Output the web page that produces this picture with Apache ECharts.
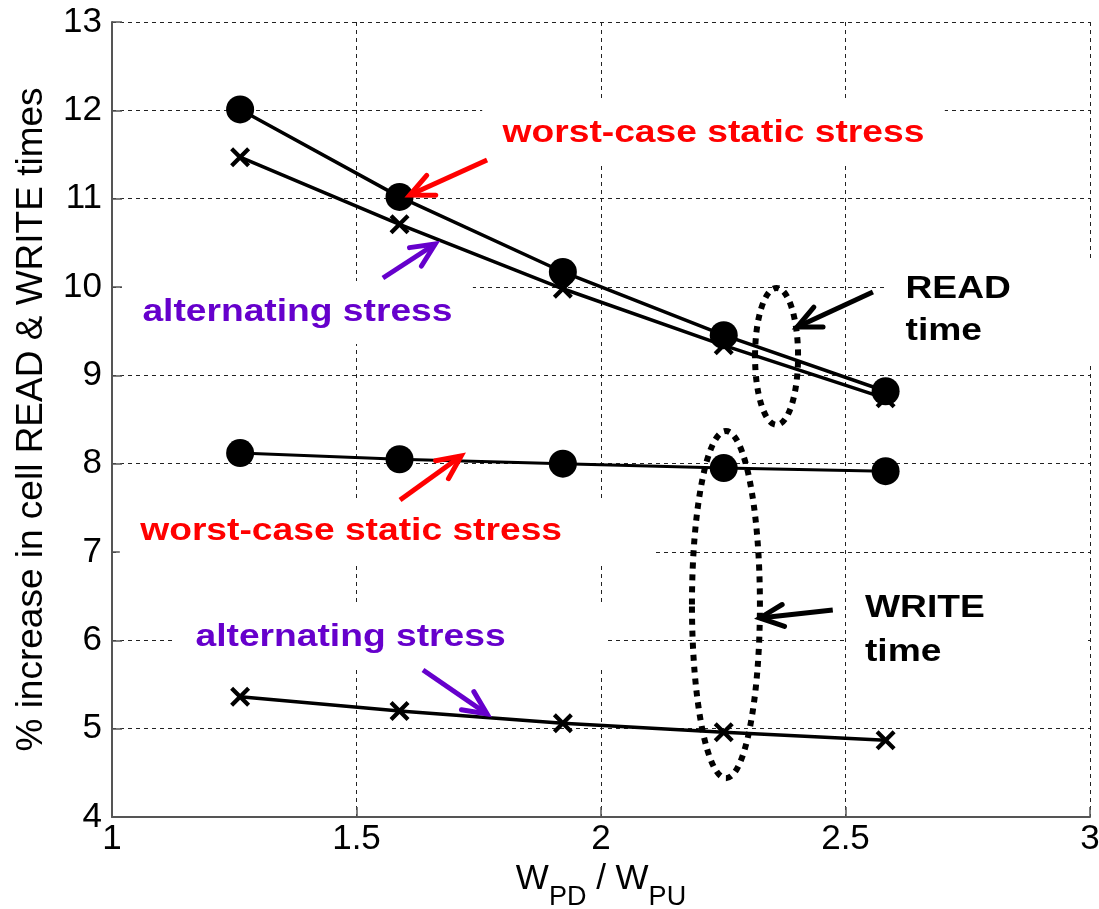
<!DOCTYPE html>
<html>
<head>
<meta charset="utf-8">
<script src="https://cdn.jsdelivr.net/npm/echarts@6/dist/echarts.min.js"></script>
<style>html,body{margin:0;padding:0;background:#fff}#c{width:1099px;height:909px}</style>
</head>
<body>
<div id="c"></div>
<script>
// ---- data ----
const xRatio     = [1.262, 1.588, 1.922, 2.251, 2.582];
const readWorst  = [12.01, 11.02, 10.17, 9.455, 8.82];
const readAlt    = [11.47, 10.71, 9.98, 9.34, 8.74];
const writeWorst = [8.12, 8.05, 8.00, 7.95, 7.915];
const writeAlt   = [5.36, 5.20, 5.06, 4.96, 4.87];
const xTickStep = 0.5, yTickStep = 1;

const FONT = 'Liberation Sans';
const RED = '#ff0000', PURPLE = '#6600cc';
const XSYM = 'path://M1.5,0 L5,3.5 L8.5,0 L10,1.5 L6.5,5 L10,8.5 L8.5,10 L5,6.5 L1.5,10 L0,8.5 L3.5,5 L0,1.5 Z';
const pairs = ys => xRatio.map((x, i) => [x, ys[i]]);

const chart = echarts.init(document.getElementById('c'), null, {renderer: 'canvas'});

function lineSeries(name, ys, sym, size, lw) {
  return {
    name, type: 'line', data: pairs(ys), symbol: sym, symbolSize: size,
    showAllSymbol: true, animation: false,
    lineStyle: {color: '#000', width: lw},
    itemStyle: {color: '#000', borderWidth: 0},
    emphasis: {disabled: true}, z: 3
  };
}

chart.setOption({
  animation: false,
  grid: {left: 112, right: 9, top: 22, bottom: 92, containLabel: false, outerBoundsMode: 'none'},
  xAxis: {
    type: 'value', min: 1, max: 3, interval: xTickStep,
    name: '{w|W}{s|PD}{w| / W}{s|PU}',
    nameLocation: 'middle', nameGap: 38,
    nameTextStyle: {
      rich: {
        w: {fontSize: 35, fontFamily: FONT, color: '#000', lineHeight: 40, verticalAlign: 'top'},
        s: {fontSize: 27, fontFamily: FONT, color: '#000', lineHeight: 27, padding: [22, 0, 0, 0], verticalAlign: 'top'}
      }
    },
    axisLine: {show: true, lineStyle: {color: '#555', width: 2}},
    axisTick: {show: true, inside: true, length: 10, lineStyle: {color: '#555', width: 1.5}},
    axisLabel: {fontSize: 35, fontFamily: FONT, color: '#000', margin: 5},
    splitLine: {show: true, lineStyle: {color: '#222', width: 1, type: [4, 4]}}
  },
  yAxis: {
    type: 'value', min: 4, max: 13, interval: yTickStep,
    name: '% increase in cell READ & WRITE times',
    nameLocation: 'middle', nameGap: 62, nameRotate: 90,
    nameTextStyle: {fontSize: 37, fontFamily: FONT, color: '#000'},
    axisLine: {show: true, lineStyle: {color: '#555', width: 2}},
    axisTick: {show: true, inside: true, length: 10, lineStyle: {color: '#555', width: 1.5}},
    axisLabel: {fontSize: 35, fontFamily: FONT, color: '#000', margin: 10},
    splitLine: {show: true, lineStyle: {color: '#222', width: 1, type: [4, 4]}}
  },
  series: [
    lineSeries('READ alternating', readAlt, XSYM, 20, 3.5),
    lineSeries('READ worst-case static', readWorst, 'circle', 28, 3.5),
    lineSeries('WRITE alternating', writeAlt, XSYM, 20, 3.5),
    lineSeries('WRITE worst-case static', writeWorst, 'circle', 28, 3)
  ]
});

// ---- annotations, anchored in data coordinates ----
const P = (x, y) => chart.convertToPixel({gridIndex: 0}, [x, y]);
const els = [];

function label(text, color, at, pad, lh) {
  const p = P(at[0], at[1]);
  els.push({
    type: 'text', x: p[0], y: p[1], scaleX: 1.2, scaleY: 1, z: 5, silent: true,
    style: {
      text, fill: color, fontSize: 31, fontWeight: 'bold', fontFamily: FONT,
      backgroundColor: '#fff', padding: pad, lineHeight: lh || 31,
      align: 'left', verticalAlign: 'middle'
    }
  });
}
function arrow(tail, tip, color) {
  const a = P(tail[0], tail[1]), b = P(tip[0], tip[1]);
  const ang = Math.atan2(a[1] - b[1], a[0] - b[0]);
  const L = 26, da = 25 * Math.PI / 180;
  const p1 = [b[0] + L * Math.cos(ang + da), b[1] + L * Math.sin(ang + da)];
  const p2 = [b[0] + L * Math.cos(ang - da), b[1] + L * Math.sin(ang - da)];
  els.push({type: 'line', z: 10, silent: true, shape: {x1: a[0], y1: a[1], x2: b[0], y2: b[1]},
            style: {stroke: color, lineWidth: 5}});
  els.push({type: 'polyline', z: 10, silent: true, shape: {points: [p1, b, p2]},
            style: {stroke: color, lineWidth: 5, fill: null, lineCap: 'round'}});
}
function ellipse(x0, x1, y0, y1) {
  const a = P(x0, y1), b = P(x1, y0);
  els.push({type: 'ellipse', z: 10, silent: true,
            shape: {cx: (a[0] + b[0]) / 2, cy: (a[1] + b[1]) / 2, rx: (b[0] - a[0]) / 2, ry: (b[1] - a[1]) / 2},
            style: {fill: null, stroke: '#000', lineWidth: 6, lineDash: [6, 6]}});
}

label('worst-case static stress', RED, [1.757, 11.74], [16, 17, 16, 17]);
label('alternating stress', PURPLE, [1.0204, 9.711], [16, 17, 16, 17]);
label('READ\ntime', '#000', [2.581, 9.739], [10, 70, 10, 17], 42);
label('worst-case static stress', RED, [1.016, 7.238], [16, 78, 16, 17]);
label('alternating stress', PURPLE, [1.129, 6.032], [16, 84, 16, 17]);
label('WRITE\ntime', '#000', [2.503, 6.117], [4, 83, 4, 15], 44);

arrow([1.767, 11.438], [1.609, 11.041], RED);
arrow([1.554, 10.102], [1.661, 10.487], PURPLE);
arrow([2.556, 9.943], [2.401, 9.547], '#000');
arrow([1.589, 7.589], [1.714, 8.087], RED);
arrow([1.636, 5.664], [1.767, 5.166], PURPLE);
arrow([2.474, 6.343], [2.325, 6.253], '#000');

ellipse(2.315, 2.403, 8.44, 9.99);
ellipse(2.186, 2.325, 4.44, 8.37);

chart.setOption({graphic: {elements: els}});
</script>
</body>
</html>
